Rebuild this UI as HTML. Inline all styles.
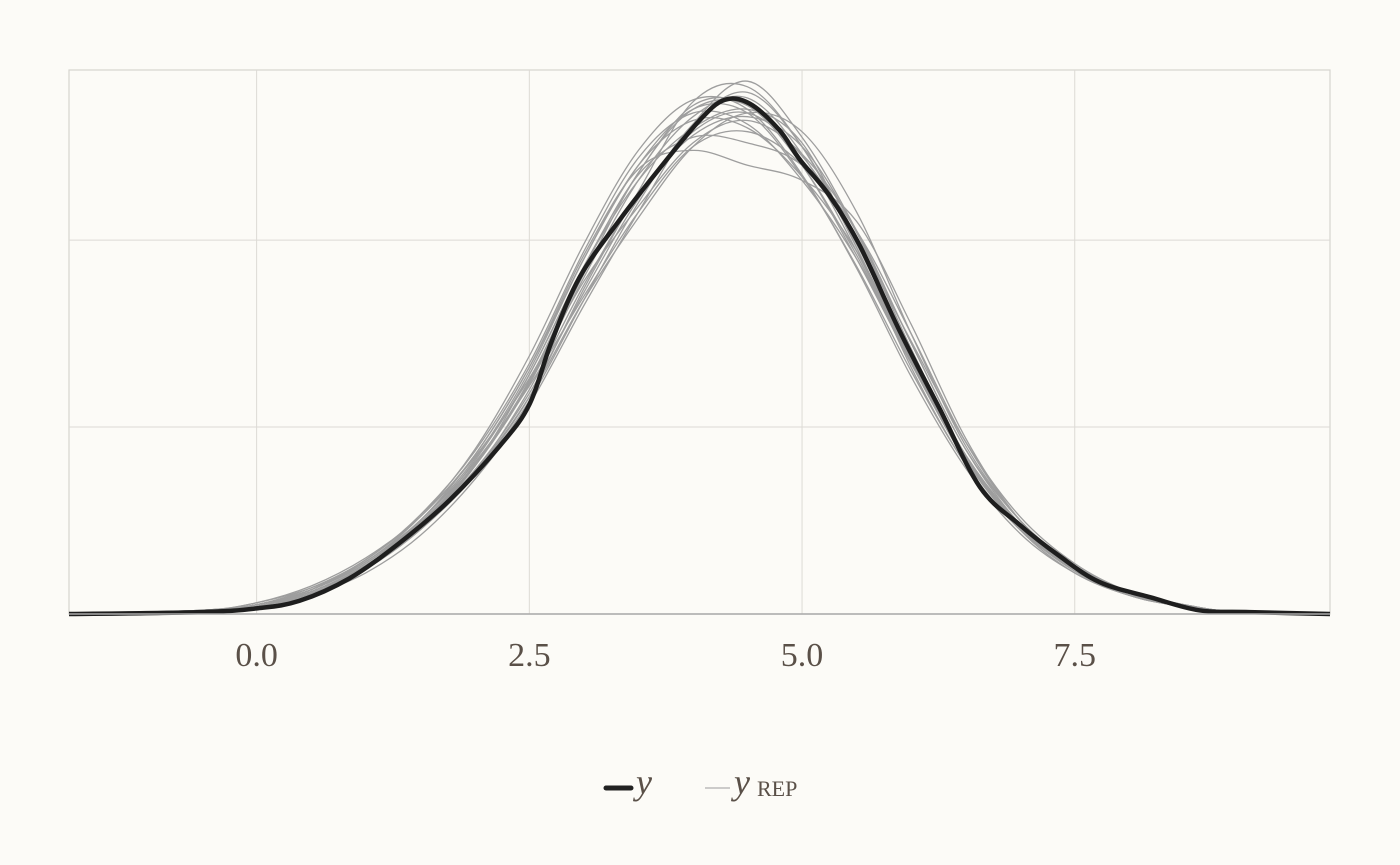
<!DOCTYPE html>
<html><head><meta charset="utf-8"><style>
html,body{margin:0;padding:0;background:#fcfbf7;}
svg{display:block;}
text{font-family:"Liberation Serif",serif;}
</style></head><body>
<svg id="chart" width="1400" height="865">
<rect width="1400" height="865" fill="#fcfbf7"/>
<g id="grid"></g>
<g id="reps"></g>
<g id="obs"></g>
<g id="axis"></g>
<g>
  <line x1="606" y1="788" x2="631" y2="788" stroke="#222" stroke-width="5" stroke-linecap="round"/>
  <text x="636" y="794" font-size="36" font-style="italic" fill="#5a5048">y</text>
  <line x1="705" y1="788" x2="730" y2="788" stroke="#bbb" stroke-width="1.5"/>
  <text x="734" y="794" font-size="36" font-style="italic" fill="#5a5048">y</text>
  <text x="757" y="796" font-size="22" fill="#5a5048">REP</text>
</g>
</svg>
<script>
const xTicks = [0, 2.5, 5, 7.5];
const xTickLabels = ["0.0", "2.5", "5.0", "7.5"];
const yGrid = [0, 0.1, 0.2];
const obsX = [-1.72,-0.52,0,0.39,0.85,1.31,1.77,2.23,2.5,2.7,2.96,3.33,3.69,4.06,4.29,4.52,4.79,4.98,5.25,5.53,5.89,6.26,6.63,6.99,7.36,7.73,8.19,8.64,9.1,9.84];
const obsY = [0,0.001,0.003,0.007,0.019,0.038,0.061,0.09,0.112,0.145,0.18,0.211,0.238,0.264,0.275,0.273,0.259,0.243,0.224,0.197,0.152,0.11,0.068,0.048,0.031,0.017,0.009,0.002,0.001,0];
const repX = [-1.72,-0.5,0,0.5,1,1.5,2,2.5,3,3.5,4,4.5,5,5.5,6,6.5,7,7.5,8,8.5,9,9.84];
const rep1 = [0,0.001,0.004,0.012,0.026,0.047,0.077,0.118,0.172,0.222,0.258,0.268,0.245,0.2,0.14,0.085,0.047,0.024,0.011,0.004,0.001,0];
const rep2 = [0,0.002,0.006,0.014,0.028,0.052,0.088,0.138,0.198,0.248,0.275,0.27,0.235,0.185,0.127,0.078,0.043,0.022,0.01,0.004,0.001,0];
const rep3 = [0,0.001,0.003,0.01,0.022,0.042,0.072,0.112,0.165,0.215,0.262,0.285,0.255,0.205,0.145,0.088,0.05,0.026,0.012,0.005,0.001,0];
const rep4 = [0,0.001,0.005,0.013,0.027,0.049,0.08,0.125,0.185,0.235,0.255,0.252,0.24,0.205,0.15,0.092,0.05,0.025,0.011,0.004,0.001,0];
const rep5 = [0,0.002,0.005,0.013,0.027,0.05,0.085,0.132,0.19,0.24,0.27,0.268,0.234,0.186,0.13,0.08,0.045,0.024,0.012,0.005,0.001,0];
const rep6 = [0,0.001,0.004,0.011,0.024,0.045,0.074,0.114,0.168,0.22,0.262,0.279,0.25,0.198,0.138,0.085,0.048,0.025,0.011,0.004,0.001,0];
const rep7 = [0,0.001,0.004,0.013,0.029,0.052,0.085,0.132,0.192,0.238,0.248,0.24,0.232,0.21,0.155,0.094,0.05,0.025,0.011,0.004,0.001,0];
const rep8 = [0,0.001,0.004,0.012,0.026,0.048,0.082,0.128,0.186,0.236,0.272,0.272,0.24,0.19,0.134,0.082,0.046,0.024,0.01,0.004,0.001,0];
const rep9 = [0,0.002,0.006,0.015,0.03,0.052,0.084,0.126,0.178,0.218,0.252,0.264,0.246,0.205,0.145,0.088,0.048,0.024,0.011,0.004,0.001,0];
const rep10 = [0,0.001,0.004,0.012,0.026,0.048,0.08,0.124,0.182,0.236,0.27,0.272,0.24,0.192,0.135,0.083,0.046,0.023,0.01,0.004,0.001,0];
const rep11 = [0,0.001,0.003,0.011,0.025,0.046,0.076,0.116,0.168,0.212,0.25,0.268,0.258,0.215,0.15,0.09,0.05,0.026,0.012,0.005,0.001,0];
const rep12 = [0,0.002,0.005,0.013,0.027,0.05,0.083,0.13,0.19,0.24,0.264,0.26,0.234,0.194,0.138,0.085,0.048,0.025,0.011,0.004,0.001,0];
const rep13 = [0,0.001,0.004,0.012,0.026,0.047,0.076,0.12,0.176,0.224,0.256,0.266,0.25,0.204,0.142,0.084,0.045,0.022,0.01,0.004,0.001,0];
const rep14 = [0,0.001,0.004,0.011,0.025,0.047,0.079,0.128,0.186,0.232,0.26,0.27,0.252,0.196,0.132,0.08,0.045,0.024,0.011,0.004,0.001,0];
const rep15 = [0,0.001,0.005,0.013,0.028,0.05,0.081,0.122,0.17,0.215,0.25,0.258,0.24,0.2,0.146,0.092,0.052,0.027,0.012,0.005,0.001,0];
const rep16 = [0,0.002,0.005,0.012,0.025,0.045,0.075,0.116,0.174,0.226,0.274,0.282,0.25,0.196,0.136,0.083,0.046,0.024,0.011,0.004,0.001,0];
const rep17 = [0,0.002,0.005,0.014,0.029,0.053,0.087,0.134,0.194,0.244,0.268,0.262,0.232,0.19,0.136,0.084,0.046,0.023,0.01,0.004,0.001,0];
const rep18 = [0,0.001,0.004,0.012,0.026,0.048,0.079,0.123,0.18,0.232,0.266,0.276,0.246,0.194,0.135,0.083,0.047,0.024,0.011,0.004,0.001,0];
const reps = [rep1,rep2,rep3,rep4,rep5,rep6,rep7,rep8,rep9,rep10,rep11,rep12,rep13,rep14,rep15,rep16,rep17,rep18];

const NS = "http://www.w3.org/2000/svg";
const L = 69, R = 1330, T = 70, B = 614;
const xMin = -1.72, xMax = 9.84, yMax = 0.291;
const sx = v => L + (v - xMin) / (xMax - xMin) * (R - L);
const sy = v => B - v / yMax * (B - T);
function mk(tag, attrs, parent) {
  const e = document.createElementNS(NS, tag);
  for (const k in attrs) e.setAttribute(k, attrs[k]);
  parent.appendChild(e);
  return e;
}
function smoothPath(xs, ys) {
  const p = xs.map((x, i) => [sx(x), sy(ys[i])]);
  let d = "M" + p[0][0].toFixed(1) + "," + p[0][1].toFixed(1);
  for (let i = 0; i < p.length - 1; i++) {
    const p0 = p[i - 1] || p[i], p1 = p[i], p2 = p[i + 1], p3 = p[i + 2] || p2;
    const c1 = [p1[0] + (p2[0] - p0[0]) / 6, p1[1] + (p2[1] - p0[1]) / 6];
    const c2 = [p2[0] - (p3[0] - p1[0]) / 6, p2[1] - (p3[1] - p1[1]) / 6];
    d += "C" + c1.map(v => v.toFixed(1)) + " " + c2.map(v => v.toFixed(1)) + " " + p2.map(v => v.toFixed(1));
  }
  return d;
}
const grid = document.getElementById("grid");
const fr = mk("rect", {x: L, y: T, width: R - L, height: B - T, fill: "none", stroke: "#d6d4cf", "stroke-width": 1.2}, grid);


xTicks.forEach(t => {
  const g = mk("line", {x1: sx(t), x2: sx(t), y1: T, y2: B, stroke: "#dcdad5", "stroke-width": 1}, grid);
  
  
});
yGrid.forEach(t => {
  const g = mk("line", {x1: L, x2: R, y1: sy(t), y2: sy(t), stroke: "#dcdad5", "stroke-width": 1}, grid);
  
  
});
const repsG = document.getElementById("reps");
reps.forEach(r => {
  const p = mk("path", {d: smoothPath(repX, r), fill: "none", stroke: "#9e9e9e", "stroke-width": 1.3}, repsG);
  
  
});
const obsG = document.getElementById("obs");
const op = mk("path", {d: smoothPath(obsX, obsY), fill: "none", stroke: "#1e1e1e", "stroke-width": 4.5, "stroke-linejoin": "round"}, obsG);


const axis = document.getElementById("axis");
const bl = mk("line", {x1: L, x2: R, y1: B, y2: B, stroke: "#aaa", "stroke-width": 1.5}, axis);


xTicks.forEach((t, i) => {
  const tx = mk("text", {x: sx(t), y: 666, "font-size": 34, "text-anchor": "middle", fill: "#5a5048"}, axis);
  tx.textContent = xTickLabels[i];
  
  
});
</script>
</body></html>
